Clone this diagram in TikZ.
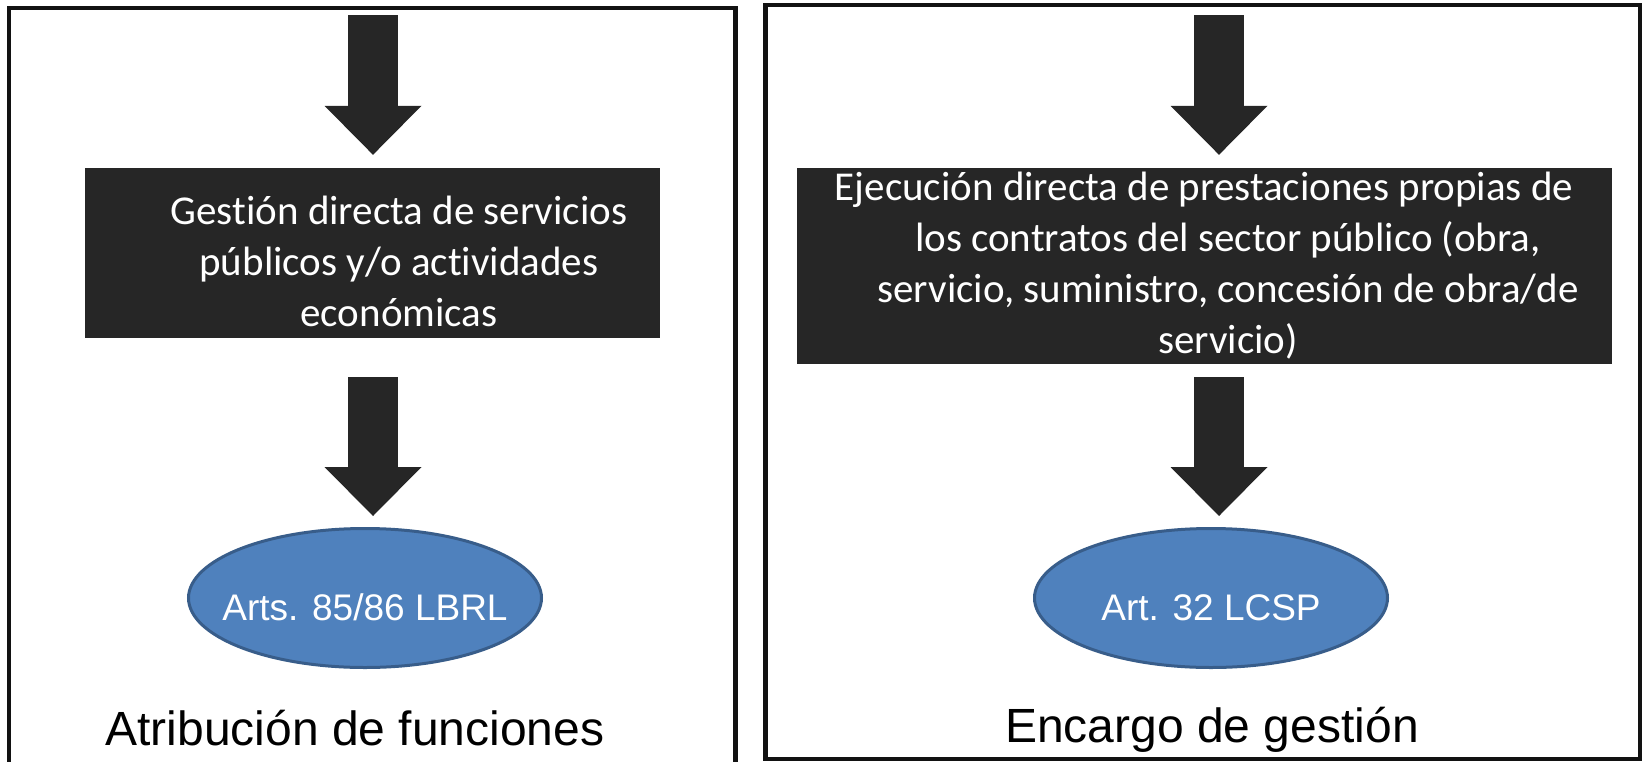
\documentclass[tikz,border=0pt]{standalone}
\usepackage{fontspec}
\setmainfont{Liberation Sans}
\newfontfamily\boxfont[Ligatures=NoCommon]{Carlito}
\usetikzlibrary{arrows.meta,shapes.geometric}
\definecolor{boxgray}{HTML}{262626}
\definecolor{artblue}{HTML}{4F81BD}
\definecolor{artborder}{HTML}{385D8A}
\tikzset{
  panel/.style={line width=4.5pt,draw=black!93},
  darkbox/.style={fill=boxgray,inner sep=0pt},
  boxtext/.style={text=white,font=\boxfont\fontsize{41}{51}\selectfont,align=center,inner sep=0pt},
  art/.style={ellipse,fill=artblue,draw=artborder,line width=3pt,text=white,
    font=\fontsize{37}{44}\selectfont,minimum width=353pt,minimum height=139pt,
    inner xsep=-20pt,inner ysep=0pt,text height=44pt,text depth=0pt},
  paneltitle/.style={font=\fontsize{48}{56}\selectfont,anchor=base},
  bigarrow/.style={line width=50pt,draw=boxgray,
    -{Triangle[width=97pt,length=49pt,line width=0pt]}}
}

\begin{document}
\begin{tikzpicture}[x=1pt,y=-1pt]
\useasboundingbox (0,0) rectangle (1642,761);
% left panel
\begin{scope}
\draw[panel] (9,770) -- (9,8) -- (735.5,8) -- (735.5,770);
\coordinate (ltop) at (373,15);
\node[darkbox,minimum width=575pt,minimum height=170pt] (gestion) at (372.5,253) {};
\node[boxtext] (gestiontxt) at (399,261) {Gestión directa de servicios\\públicos y/o actividades\\económicas};
\node[art] (lbrl) at (365,598) {Arts. 85/86 LBRL};
\node[paneltitle] (atrib) at (355,745) {Atribución de funciones};
\draw[bigarrow,shorten >=13pt] (ltop) -- (ltop |- gestion.north);
\draw[bigarrow,shorten <=39pt,shorten >=11pt] (ltop |- gestion.south) -- (ltop |- lbrl.north);
\end{scope}
% right panel
\begin{scope}
\draw[panel] (765.5,5) rectangle (1640,759);
\coordinate (rtop) at (1219,15);
\node[darkbox,minimum width=815pt,minimum height=196pt] (ejecucion) at (1204.5,266) {};
\node[boxtext] (ejecuciontxt) at (1228,266) {Ejecución directa de prestaciones propias de\hspace*{48pt}\\los contratos del sector público (obra,\\servicio, suministro, concesión de obra/de\\servicio)};
\node[art] (lcsp) at (1211,598) {Art. 32 LCSP};
\node[paneltitle] (encargo) at (1212,742) {Encargo de gestión};
\draw[bigarrow,shorten >=13pt] (rtop) -- (rtop |- ejecucion.north);
\draw[bigarrow,shorten <=13pt,shorten >=11pt] (rtop |- ejecucion.south) -- (rtop |- lcsp.north);
\end{scope}
\end{tikzpicture}
\end{document}
